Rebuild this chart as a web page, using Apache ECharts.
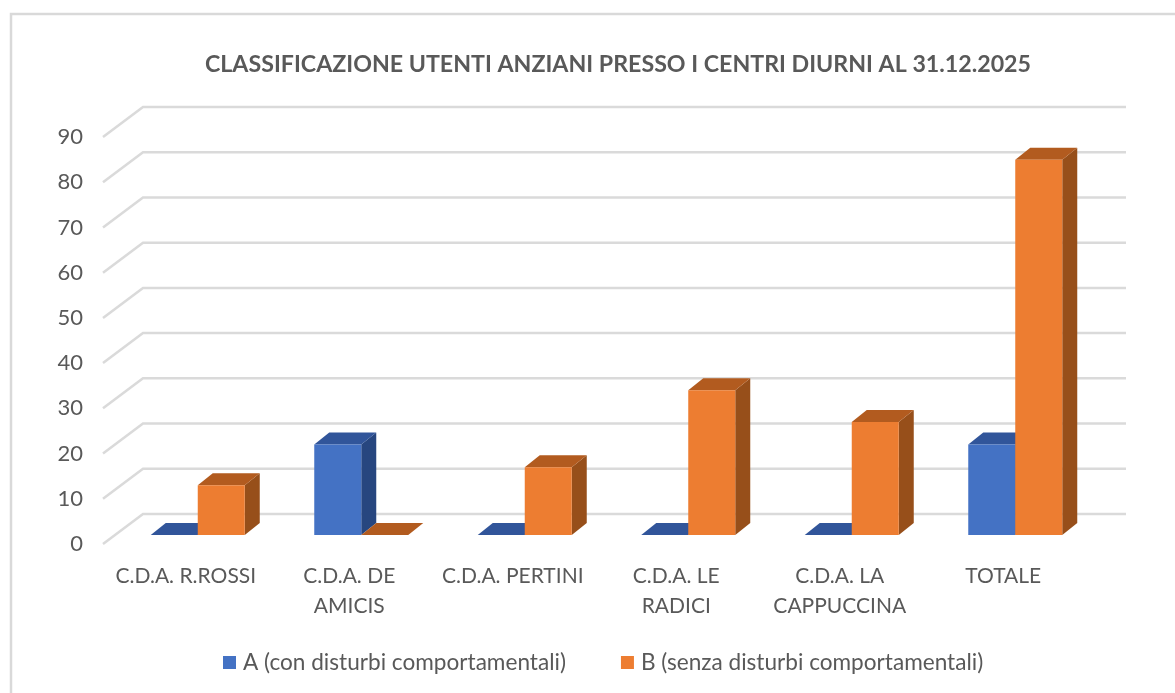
<!DOCTYPE html>
<html><head><meta charset="utf-8">
<script src="https://cdn.jsdelivr.net/npm/echarts@6/dist/echarts.min.js"></script>
<style>html,body{margin:0;padding:0;background:#fff}#c{width:1175px;height:693px}</style>
</head><body><div id="c"></div>
<script>
var titleText = 'CLASSIFICAZIONE UTENTI ANZIANI PRESSO I CENTRI DIURNI AL 31.12.2025';
var categories = ['C.D.A. R.ROSSI', 'C.D.A. DE\nAMICIS', 'C.D.A. PERTINI', 'C.D.A. LE\nRADICI', 'C.D.A. LA\nCAPPUCCINA', 'TOTALE'];
var seriesAName = 'A (con disturbi comportamentali)';
var seriesBName = 'B (senza disturbi comportamentali)';
var seriesA = [0, 20, 0, 0, 0, 20];
var seriesB = [11, 0, 15, 32, 25, 83];
var yTicks = [0, 10, 20, 30, 40, 50, 60, 70, 80, 90];

var DX = 15, DY = 12, BAR = 47;
var TEXT = '#595959', GRID = '#DADADA', FONT = 'Lato';

function box(offset, front, top, side) {
  return function (params, api) {
    var p = api.coord([api.value(0), api.value(1)]);
    var b = api.coord([api.value(0), 0]);
    var x0 = b[0] + offset, x1 = x0 + BAR, yt = p[1], yb = b[1];
    return { type: 'group', children: [
      { type: 'polygon', shape: { points: [[x1, yb], [x1 + DX, yb - DY], [x1 + DX, yt - DY], [x1, yt]] }, style: { fill: side } },
      { type: 'polygon', shape: { points: [[x0, yt], [x1, yt], [x1 + DX, yt - DY], [x0 + DX, yt - DY]] }, style: { fill: top } },
      { type: 'rect', shape: { x: x0, y: yt, width: BAR, height: yb - yt }, style: { fill: front } }
    ] };
  };
}
function wall(params, api) {
  var c = api.coord([0, api.value(1)]);
  var s = params.coordSys;
  var y = c[1];
  return { type: 'polyline', silent: true,
    shape: { points: [[s.x - 13, y + 9], [s.x + 27, y - 21], [s.x + s.width + 29, y - 21]] },
    style: { stroke: GRID, lineWidth: 2.5, fill: null } };
}
function pairs(vals) { return vals.map(function (v, i) { return [i, v]; }); }

var chart = echarts.init(document.getElementById('c'), null, { renderer: 'canvas' });
chart.setOption({
  animation: false,
  backgroundColor: '#ffffff',
  textStyle: { fontFamily: FONT },
  title: { text: titleText, left: 613, top: 48, textAlign: 'center',
    textStyle: { fontFamily: FONT, fontSize: 23.2, fontWeight: 'bold', color: TEXT } },
  legend: { left: 223, top: 651, padding: 0, itemWidth: 13, itemHeight: 13, itemGap: 55, icon: 'rect',
    data: [seriesAName, seriesBName], selectedMode: false,
    textStyle: { fontFamily: FONT, fontSize: 22.6, color: TEXT, padding: [0, 0, 0, 2] } },
  grid: { left: 116, top: 128, width: 981, height: 407, containLabel: false },
  xAxis: { type: 'category', data: categories, axisLine: { show: false }, axisTick: { show: false }, splitLine: { show: false },
    axisLabel: { interval: 0, color: TEXT, fontFamily: FONT, fontSize: 21, lineHeight: 30, margin: 26, padding: [0, 24, 0, 0] } },
  yAxis: { type: 'value', min: 0, max: 90, interval: 10, axisLine: { show: false }, axisTick: { show: false }, splitLine: { show: false },
    axisLabel: { color: TEXT, fontFamily: FONT, fontSize: 22, margin: 33, verticalAlign: 'top', lineHeight: 18 } },
  graphic: [{ type: 'polyline', silent: true, z: -1,
    shape: { points: [[11, 693], [11, 14], [1175, 14]] }, style: { stroke: '#D9D9D9', lineWidth: 2.5, fill: null } }],
  series: [
    { type: 'custom', name: 'walls', silent: true, z: 1, renderItem: wall, encode: { x: 0, y: 1 }, data: yTicks.map(function (v) { return [0, v]; }) },
    { type: 'custom', name: seriesAName, z: 2, renderItem: box(-47, '#4472C4', '#31559A', '#27467F'), itemStyle: { color: '#4472C4' }, encode: { x: 0, y: 1 }, data: pairs(seriesA) },
    { type: 'custom', name: seriesBName, z: 3, renderItem: box(0, '#ED7D31', '#B25B1F', '#974F1A'), itemStyle: { color: '#ED7D31' }, encode: { x: 0, y: 1 }, data: pairs(seriesB) }
  ]
});
</script></body></html>
